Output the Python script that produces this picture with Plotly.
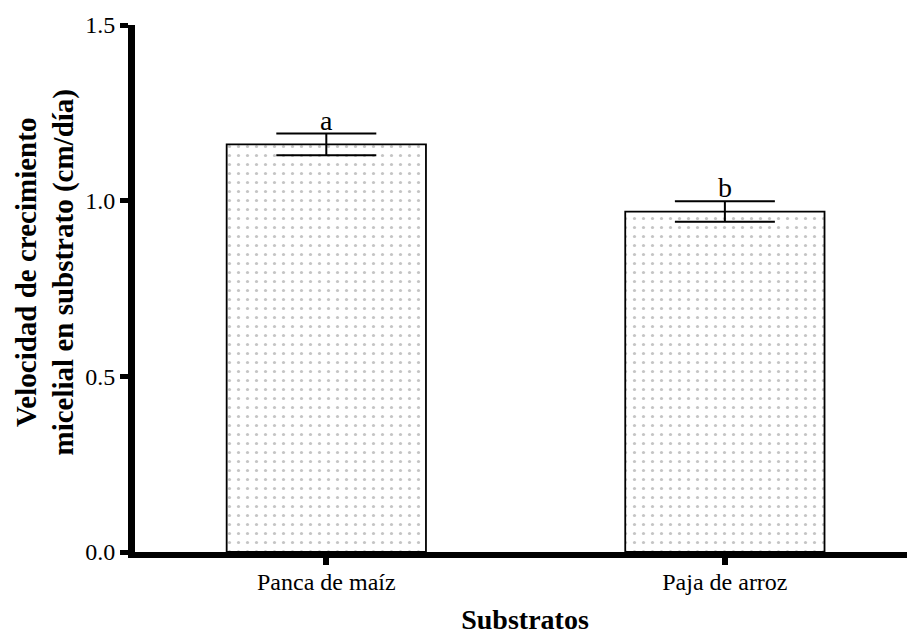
import plotly.graph_objects as go

# datos
substratos = ["Panca de maíz", "Paja de arroz"]
velocidad = [1.160, 0.969]
error = [0.031, 0.029]
letras = ["a", "b"]

serif = "Liberation Serif"

fig = go.Figure()

fig.add_trace(go.Bar(
    x=substratos,
    y=velocidad,
    width=0.5,
    marker=dict(
        color="white",
        line=dict(color="black", width=1.8),
        pattern=dict(shape=".", size=9, solidity=0.1, fgcolor="#8a8a8a", bgcolor="white"),
    ),
    error_y=dict(type="data", array=error, visible=True, color="black", thickness=2, width=50),
    showlegend=False,
))

for s, v, e, t in zip(substratos, velocidad, error, letras):
    fig.add_annotation(
        x=s, y=v + e, text=t, showarrow=False, yanchor="bottom", yshift=-4,
        font=dict(family=serif, size=28, color="black"),
    )

# titulo del eje y como anotacion (para poder moverlo)
fig.add_annotation(
    xref="paper", yref="paper", x=0, y=0.5, xanchor="center", yanchor="middle",
    xshift=-90, yshift=16, textangle=-90, showarrow=False,
    text="<b>Velocidad de crecimiento<br>micelial en substrato (cm/día)</b>",
    font=dict(family=serif, size=29, color="black"),
)

# la pagina tiene 8px de margen en el body, se compensa aqui
fig.update_layout(
    width=907,
    height=629,
    margin=dict(l=127, r=0, t=17, b=85),
    paper_bgcolor="white",
    plot_bgcolor="white",
    font=dict(family=serif, color="black", size=18),
    xaxis=dict(
        range=[-0.48, 1.477],
        automargin=False,
        showline=True, linecolor="black", linewidth=6,
        ticks="outside", ticklen=7, tickwidth=6, tickcolor="black",
        tickfont=dict(size=24, family=serif, color="black"),
        ticklabelstandoff=-4,
        title=dict(text="<b>Substratos</b>", font=dict(size=28, family=serif), standoff=18),
        showgrid=False, zeroline=False,
    ),
    yaxis=dict(
        range=[0, 1.5],
        automargin=False,
        tickvals=[0, 0.5, 1.0, 1.5],
        ticktext=["0.0", "0.5", "1.0", "1.5"],
        showline=True, linecolor="black", linewidth=7,
        ticks="outside", ticklen=8, tickwidth=5, tickcolor="black",
        tickfont=dict(size=24, family=serif, color="black"),
        showgrid=False, zeroline=False,
    ),
)

fig.write_html("out.html")
